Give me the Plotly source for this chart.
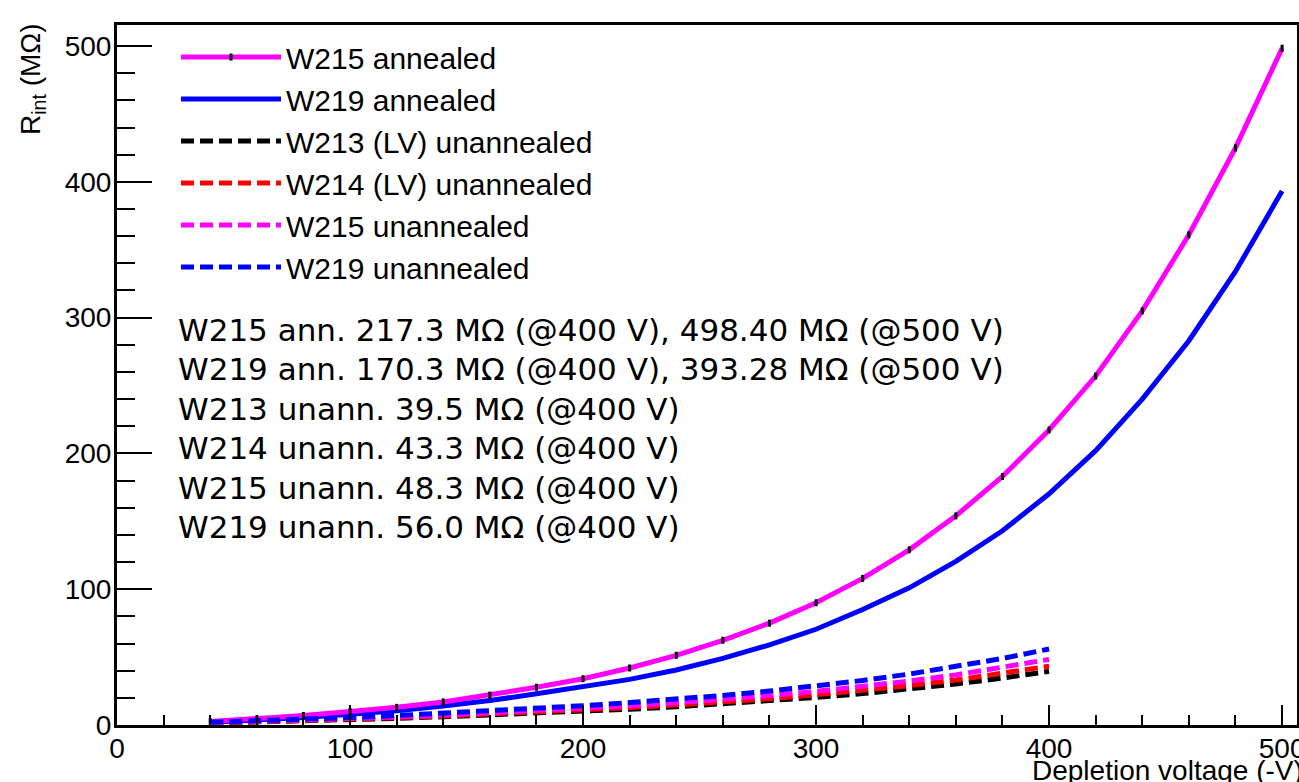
import plotly.graph_objects as go

# ---- data ----
voltage_ann = [40, 60, 80, 100, 120, 140, 160, 180, 200, 220, 240, 260, 280, 300,
               320, 340, 360, 380, 400, 420, 440, 460, 480, 500]
w215_ann = [2.5, 4.5, 7.0, 10.0, 13.0, 17.0, 22.0, 27.8, 34.1, 42.0, 51.3, 62.4, 75.0, 90.0,
            108.0, 129.0, 154.0, 183.0, 217.3, 257.0, 305.0, 361.0, 425.0, 498.4]
w219_ann = [2.0, 3.5, 5.5, 8.0, 10.5, 14.0, 18.0, 23.0, 28.0, 33.6, 40.5, 49.0, 59.0, 70.5,
            85.0, 101.0, 120.5, 143.0, 170.3, 202.0, 240.0, 283.0, 334.0, 393.28]

voltage_unann = [40, 60, 80, 100, 120, 140, 160, 180, 200, 220, 240, 260, 280, 300,
                 320, 340, 360, 380, 400]
w213_unann = [1.4, 2.1, 3.0, 3.9, 4.9, 6.1, 7.3, 8.6, 10.0, 11.6, 13.4, 15.4, 17.6, 20.3,
              23.1, 26.4, 30.2, 34.6, 39.5]
w214_unann = [1.5, 2.3, 3.2, 4.3, 5.4, 6.6, 8.0, 9.4, 11.0, 12.8, 14.7, 16.9, 19.3, 22.3,
              25.4, 29.0, 33.1, 37.9, 43.3]
w215_unann = [1.7, 2.6, 3.6, 4.7, 6.0, 7.4, 9.0, 10.5, 12.2, 14.2, 16.4, 18.8, 21.6, 24.8,
              28.3, 32.3, 36.9, 42.2, 48.3]
w219_unann = [2.0, 3.0, 4.2, 5.5, 7.0, 8.6, 10.4, 12.2, 14.2, 16.5, 19.0, 21.8, 25.0, 28.8,
              32.8, 37.5, 42.8, 49.0, 56.0]

summary_lines = [
    "W215 ann. 217.3 MΩ (@400 V), 498.40 MΩ (@500 V)",
    "W219 ann. 170.3 MΩ (@400 V), 393.28 MΩ (@500 V)",
    "W213 unann. 39.5 MΩ (@400 V)",
    "W214 unann. 43.3 MΩ (@400 V)",
    "W215 unann. 48.3 MΩ (@400 V)",
    "W219 unann. 56.0 MΩ (@400 V)",
]

x_ticks = [0, 100, 200, 300, 400, 500]
y_ticks = [0, 100, 200, 300, 400, 500]

# ---- figure geometry ----
W, H = 1299, 782
L, R, T, B = 117, 2, 25, 57
PW, PH = W - L - R, H - T - B


def px_x(p):
    return (p - L) / PW


def px_y(p):
    return (H - B - p) / PH


DASH = "13px,6px"
fig = go.Figure()

fig.add_trace(go.Scatter(x=voltage_ann, y=w219_ann, name="W219 annealed", mode="lines",
                         line=dict(color="#0000ff", width=5), legendrank=2))
fig.add_trace(go.Scatter(x=voltage_ann, y=w215_ann, name="W215 annealed", mode="lines+markers",
                         line=dict(color="#ff00ff", width=5),
                         marker=dict(symbol="line-ns", size=5, color="black",
                                     line=dict(width=3, color="black")),
                         legendrank=1))
fig.add_trace(go.Scatter(x=voltage_unann, y=w213_unann, name="W213 (LV) unannealed", mode="lines",
                         line=dict(color="black", width=5, dash=DASH), legendrank=3))
fig.add_trace(go.Scatter(x=voltage_unann, y=w214_unann, name="W214 (LV) unannealed", mode="lines",
                         line=dict(color="#ff0000", width=5, dash=DASH), legendrank=4))
fig.add_trace(go.Scatter(x=voltage_unann, y=w215_unann, name="W215 unannealed", mode="lines",
                         line=dict(color="#ff00ff", width=5, dash=DASH), legendrank=5))
fig.add_trace(go.Scatter(x=voltage_unann, y=w219_unann, name="W219 unannealed", mode="lines",
                         line=dict(color="#0000ff", width=5, dash=DASH), legendrank=6))

annotations = []
line_y = [330, 369, 409, 448, 488, 527]
for txt, yy in zip(summary_lines, line_y):
    annotations.append(dict(text=txt, xref="paper", yref="paper", x=px_x(176), y=px_y(yy),
                            xanchor="left", yanchor="middle", showarrow=False,
                            font=dict(family="DejaVu Sans", size=31, color="black")))

annotations.append(dict(text="R<sub>int</sub> (MΩ)", xref="paper", yref="paper",
                        x=px_x(33), y=px_y(21), xanchor="center", yanchor="top",
                        textangle=-90, showarrow=False,
                        font=dict(family="Liberation Sans", size=28, color="black")))
annotations.append(dict(text="Depletion voltage (-V)", xref="paper", yref="paper",
                        x=px_x(1030), y=px_y(753), xanchor="left", yanchor="top",
                        showarrow=False,
                        font=dict(family="Liberation Sans", size=28, color="black")))

axis_common = dict(showline=True, linecolor="black", linewidth=3, mirror=True,
                   ticks="inside", tickcolor="black", tickwidth=2,
                   showgrid=False, zeroline=False, ticklabeloverflow="allow",
                   automargin=False,
                   tickfont=dict(family="Liberation Sans", size=28, color="black"))

fig.update_layout(
    width=W, height=H,
    margin=dict(l=L, r=R, t=T, b=B, autoexpand=False),
    paper_bgcolor="white", plot_bgcolor="white",
    showlegend=True,
    legend=dict(x=px_x(176), y=px_y(31), xanchor="left", yanchor="top",
                bgcolor="rgba(0,0,0,0)", itemwidth=100,
                font=dict(family="Liberation Sans", size=30, color="black"),
                traceorder="normal"),
    xaxis=dict(range=[0, 506.4], tickvals=x_ticks, ticklen=20, ticklabelstandoff=-4,
               minor=dict(dtick=20, ticklen=10, ticks="inside", tickcolor="black", tickwidth=2),
               **axis_common),
    yaxis=dict(range=[0, 515.5], tickvals=y_ticks, ticklen=35, ticklabelstandoff=-3,
               minor=dict(dtick=20, ticklen=18, ticks="inside", tickcolor="black", tickwidth=2),
               **axis_common),
    annotations=annotations,
)

fig.write_html("out.html")
